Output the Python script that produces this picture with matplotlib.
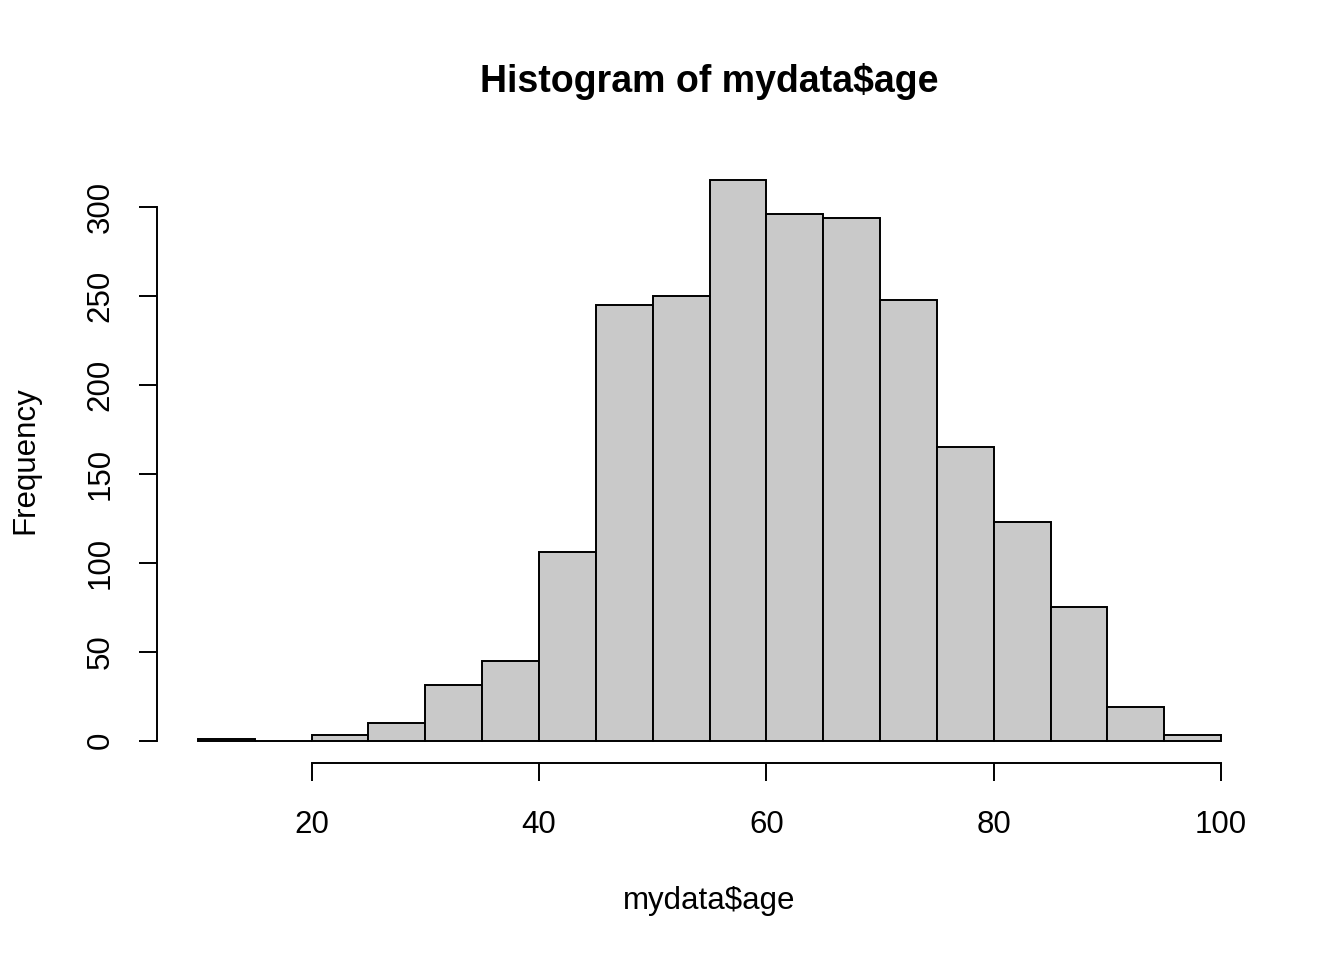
import matplotlib.pyplot as plt
import numpy as np

plt.rcParams["font.family"] = ["Liberation Sans", "DejaVu Sans"]

# histogram of age, bins of width 5
bin_left = [10, 15, 20, 25, 30, 35, 40, 45, 50, 55, 60, 65, 70, 75, 80, 85, 90, 95]
counts = [1, 0, 3, 10, 31, 45, 106, 245, 250, 315, 296, 294, 248, 165, 123, 75, 19, 3]
bin_width = 5
x_ticks = [20, 40, 60, 80, 100]
y_ticks = [0, 50, 100, 150, 200, 250, 300]

fig = plt.figure(figsize=(13.44, 9.6), dpi=100)
ax = fig.add_axes([157 / 1344, 1 - 763 / 960, 1105 / 1344, 605 / 960])

ax.bar(bin_left, counts, width=bin_width, align="edge",
       color="#c9c9c9", edgecolor="black", linewidth=1.4)

ax.set_xlim(6.4, 103.6)
ax.set_ylim(-12.6, 327.6)

# R style axes: no box, axis lines only over the tick range
for side in ["top", "right"]:
    ax.spines[side].set_visible(False)
ax.spines["left"].set_bounds(0, 300)
ax.spines["bottom"].set_bounds(20, 100)
ax.spines["left"].set_linewidth(1.4)
ax.spines["bottom"].set_linewidth(1.4)

ax.set_xticks(x_ticks)
ax.set_yticks(y_ticks)
ax.set_yticklabels([str(v) for v in y_ticks], rotation=90, va="center")
ax.tick_params(axis="both", length=13, width=1.4, labelsize=22.5)
ax.tick_params(axis="x", pad=21)
ax.tick_params(axis="y", pad=17)

mid_x = 0.5 * (157 + 1262) / 1344
fig.text(mid_x, 1 - 81 / 960, "Histogram of mydata$age",
         fontsize=27, fontweight="bold", ha="center", va="center")
fig.text(mid_x, 1 - 901 / 960, "mydata$age",
         fontsize=22.5, ha="center", va="center")
fig.text(25 / 1344, 1 - 460 / 960, "Frequency", fontsize=22.5,
         rotation=90, ha="center", va="center")

fig.savefig("out.png", dpi=100)
